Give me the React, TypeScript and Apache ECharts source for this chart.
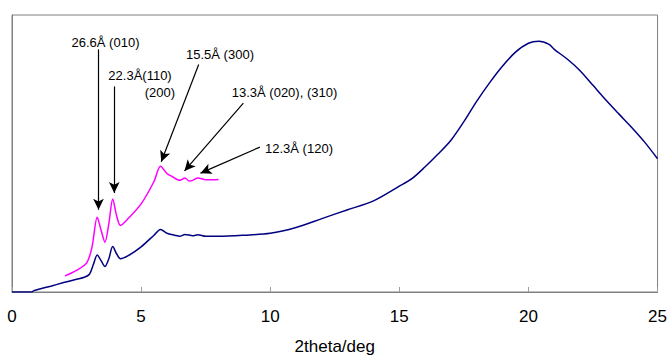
import React, { useEffect, useRef } from "react";
import * as echarts from "echarts";

const blueX = [0, 0.75, 0.85, 1.0, 1.5, 2.0, 2.5, 2.8, 3.0, 3.15, 3.3, 3.45, 3.6, 3.75, 3.9, 4.05, 4.2, 4.5, 5.0, 5.5, 5.75, 6.0, 6.3, 6.5, 6.7, 7.0, 7.2, 7.5, 8, 9, 10, 11, 12, 13, 14, 15, 15.5, 16, 16.5, 17, 17.5, 18, 18.5, 19, 19.5, 20, 20.4, 20.8, 21, 21.5, 22, 22.5, 23, 23.5, 24, 24.5, 25];
const blueY = [0, 0, 0.5, 0.9, 2.1, 3.4, 4.6, 5.3, 6.4, 9.9, 13.4, 11.3, 9.2, 12, 16.4, 13.8, 12, 13.1, 16.3, 20.5, 22.6, 21.2, 20.5, 20.1, 20.8, 20.3, 20.7, 20.1, 20.1, 20.5, 21.2, 23.3, 26.5, 29.7, 32.9, 38.2, 41, 45.2, 49.8, 54.8, 61.5, 68.9, 75.6, 81.6, 86.6, 89.8, 90.5, 89.4, 87.6, 84.1, 79.9, 74.6, 69.3, 64.3, 59.4, 54.1, 48.1];

const pinkX = [2.05, 2.5, 2.9, 3.1, 3.3, 3.45, 3.6, 3.75, 3.9, 4.05, 4.2, 4.5, 5.0, 5.5, 5.75, 6.0, 6.2, 6.5, 6.7, 6.85, 7.0, 7.2, 7.5, 7.8, 8.0];
const pinkY = [5.8, 7.8, 10.6, 16.3, 27, 22.3, 18, 24.7, 33.6, 27.6, 24, 26.5, 31.8, 39.9, 45.4, 42.8, 41.7, 40.3, 41.2, 40.1, 40.3, 41.2, 40.5, 40.5, 40.6];

// arrows: [startX, startY, endX, endY] in data units
const arrows = [
  [3.35, 87.6, 3.35, 29.7],
  [3.96, 74.2, 3.96, 35.7],
  [7.23, 82.1, 5.78, 47],
  [8.96, 68.2, 6.68, 43.7],
  [9.6, 52.3, 7.3, 42.9],
];

const labels = [
  { text: "26.6Å (010)", x: 105.5, y: 42, align: "center" },
  { text: "22.3Å(110)", x: 140, y: 75, align: "center" },
  { text: "(200)", x: 175, y: 92, align: "right" },
  { text: "15.5Å (300)", x: 220, y: 54, align: "center" },
  { text: "13.3Å (020), (310)", x: 284.5, y: 92, align: "center" },
  { text: "12.3Å (120)", x: 299, y: 148, align: "center" },
];

const xTicks = { min: 0, max: 25, interval: 5 };

export default function App() {
  const ref = useRef<HTMLDivElement>(null);
  useEffect(() => {
    if (!ref.current) return;
    const chart = echarts.init(ref.current, undefined, { renderer: "svg" });
    const blue = blueX.map((x, i) => [x, blueY[i]]);
    const pink = pinkX.map((x, i) => [x, pinkY[i]]);
    chart.setOption({
      animation: false,
      backgroundColor: "#ffffff",
      grid: {
        left: 12,
        right: 9,
        top: 15,
        bottom: 62,
        show: true,
        borderColor: "#808080",
        borderWidth: 1,
      },
      xAxis: {
        type: "value",
        min: xTicks.min,
        max: xTicks.max,
        interval: xTicks.interval,
        name: "2theta/deg",
        nameLocation: "middle",
        nameGap: 46,
        nameTextStyle: { fontFamily: "Liberation Sans, Arial", fontSize: 17, color: "#000" },
        axisLine: { show: true, lineStyle: { color: "#808080", width: 1 } },
        axisTick: { show: true, inside: true, length: 5, lineStyle: { color: "#a0a0a0" } },
        axisLabel: { fontFamily: "Liberation Sans, Arial", fontSize: 17, color: "#000", margin: 16 },
        splitLine: { show: false },
      },
      yAxis: {
        type: "value",
        min: 0,
        max: 100,
        axisLine: { show: true, lineStyle: { color: "#808080" } },
        axisTick: { show: false },
        axisLabel: { show: false },
        splitLine: { show: false },
      },
      series: [
        {
          type: "line",
          data: blue,
          showSymbol: false,
          smooth: 0.3,
          lineStyle: { color: "#000080", width: 1.5 },
          z: 2,
        },
        {
          type: "line",
          data: pink,
          showSymbol: false,
          smooth: 0.3,
          lineStyle: { color: "#ff00ff", width: 1.5 },
          z: 3,
          markLine: {
            silent: true,
            animation: false,
            symbolSize: [8, 11],
            label: { show: false },
            lineStyle: { color: "#000", width: 1.2, type: "solid" },
            data: arrows.map((a) => [
              { coord: [a[0], a[1]], symbol: "none" },
              { coord: [a[2], a[3]], symbol: "arrow" },
            ]),
          },
        },
      ],
      graphic: labels.map((l) => ({
        type: "text",
        x: l.x,
        y: l.y,
        style: {
          text: l.text,
          fill: "#000",
          font: "13px 'Liberation Sans', Arial",
          textAlign: l.align,
          textVerticalAlign: "middle",
        },
      })),
    });
    return () => chart.dispose();
  }, []);
  return (
    <div
      ref={ref}
      style={{ position: "fixed", left: 0, top: 0, width: 670, height: 360 }}
    />
  );
}
